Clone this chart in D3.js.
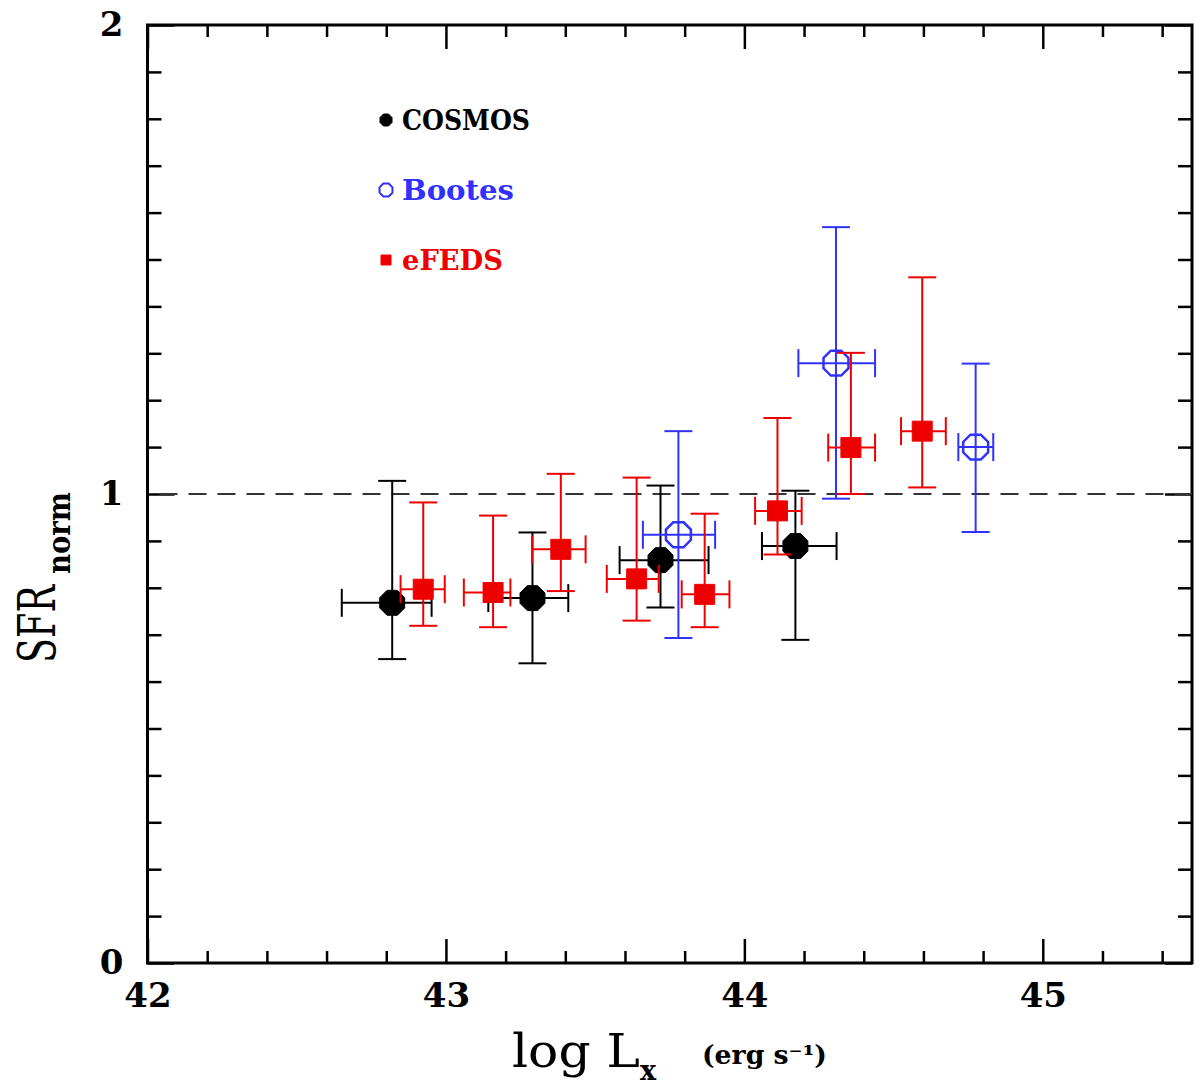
<!DOCTYPE html>
<html>
<head>
<meta charset="utf-8">
<script src="https://cdn.jsdelivr.net/npm/d3@7"></script>
<style>
  html, body { margin: 0; padding: 0; background: #fff; }
  svg { display: block; }
</style>
</head>
<body>
<svg id="chart" width="1200" height="1090"></svg>
<script>
// ---------------- DATA ----------------
const cosmosX   = [42.820, 43.290, 43.719, 44.171];
const cosmosY   = [0.768, 0.778, 0.859, 0.889];
const cosmosXlo = [42.651, 43.142, 43.582, 44.059];
const cosmosXhi = [42.952, 43.410, 43.880, 44.309];
const cosmosYlo = [0.648, 0.639, 0.758, 0.689];
const cosmosYhi = [1.028, 0.918, 1.018, 1.007];

const bootesX   = [43.779, 44.307, 44.775];
const bootesY   = [0.913, 1.279, 1.100];
const bootesXlo = [43.660, 44.181, 44.717];
const bootesXhi = [43.902, 44.438, 44.834];
const bootesYlo = [0.693, 0.990, 0.919];
const bootesYhi = [1.134, 1.569, 1.278];

const efedsX   = [42.924, 43.158, 43.385, 43.639, 43.867, 44.111, 44.357, 44.596];
const efedsY   = [0.797, 0.790, 0.882, 0.819, 0.786, 0.964, 1.099, 1.134];
const efedsXlo = [42.848, 43.060, 43.289, 43.539, 43.790, 44.036, 44.281, 44.525];
const efedsXhi = [42.996, 43.216, 43.468, 43.713, 43.950, 44.192, 44.438, 44.675];
const efedsYlo = [0.719, 0.716, 0.793, 0.730, 0.716, 0.871, 1.000, 1.014];
const efedsYhi = [0.982, 0.954, 1.043, 1.035, 0.958, 1.162, 1.301, 1.462];

const xMajorTicks = [42, 43, 44, 45];
const yMajorTicks = [0, 1, 2];
const xDomain = [42, 45.5];
const yDomain = [0, 2];
const refLineY = 1;

const seriesNames = ["COSMOS", "Bootes", "eFEDS"];

// ---------------- LAYOUT ----------------
const L = 147.5, R = 1192, T = 25, B = 963;
const svg = d3.select("#chart");
const x = d3.scaleLinear().domain(xDomain).range([L, R]);
const y = d3.scaleLinear().domain(yDomain).range([B, T]);

const tickFont = "'DejaVu Serif', serif";

// minor ticks
const xMinor = d3.range(42, 45.5001, 0.2).map(v => +v.toFixed(2)).filter(v => !xMajorTicks.includes(v));
const yMinor = d3.range(0, 2.0001, 0.1).map(v => +v.toFixed(2)).filter(v => !yMajorTicks.includes(v));

function styleAxis(g) {
  g.select(".domain").remove();
  g.selectAll(".tick line").attr("stroke", "#000").attr("stroke-width", 2.5);
  g.selectAll(".tick text").attr("fill", "#000").attr("font-family", tickFont)
    .attr("font-weight", "bold").attr("font-size", 34);
}

// bottom
svg.append("g").attr("transform", `translate(0,${B})`)
  .call(d3.axisBottom(x).tickValues(xMinor).tickSize(-12).tickFormat(""))
  .call(styleAxis);
svg.append("g").attr("transform", `translate(0,${B})`)
  .call(d3.axisBottom(x).tickValues(xMajorTicks).tickSize(-24).tickPadding(20).tickFormat(d3.format("d")))
  .call(styleAxis);
// top
svg.append("g").attr("transform", `translate(0,${T})`)
  .call(d3.axisTop(x).tickValues(xMinor).tickSize(-12).tickFormat(""))
  .call(styleAxis);
svg.append("g").attr("transform", `translate(0,${T})`)
  .call(d3.axisTop(x).tickValues(xMajorTicks).tickSize(-24).tickFormat(""))
  .call(styleAxis);
// left
svg.append("g").attr("transform", `translate(${L},0)`)
  .call(d3.axisLeft(y).tickValues(yMinor).tickSize(-14).tickFormat(""))
  .call(styleAxis);
svg.append("g").attr("transform", `translate(${L},0)`)
  .call(d3.axisLeft(y).tickValues(yMajorTicks).tickSize(-27).tickPadding(24).tickFormat(d3.format("d")))
  .call(styleAxis);
// right
svg.append("g").attr("transform", `translate(${R},0)`)
  .call(d3.axisRight(y).tickValues(yMinor).tickSize(-14).tickFormat(""))
  .call(styleAxis);
svg.append("g").attr("transform", `translate(${R},0)`)
  .call(d3.axisRight(y).tickValues(yMajorTicks).tickSize(-27).tickFormat(""))
  .call(styleAxis);

// frame
svg.append("rect").attr("x", L).attr("y", T).attr("width", R - L).attr("height", B - T)
  .attr("fill", "none").attr("stroke", "#000").attr("stroke-width", 3);

// reference dashed line
svg.append("line")
  .attr("x1", L + 12).attr("x2", R).attr("y1", y(refLineY)).attr("y2", y(refLineY))
  .attr("stroke", "#333").attr("stroke-width", 2.2).attr("stroke-dasharray", "18,11");

// ---------------- SYMBOLS ----------------
const octagon = {
  draw(ctx, size) {
    const r = Math.sqrt(size / (2 * Math.SQRT2));
    for (let i = 0; i < 8; i++) {
      const a = Math.PI / 8 + i * Math.PI / 4;
      const px = r * Math.cos(a), py = r * Math.sin(a);
      if (i === 0) ctx.moveTo(px, py); else ctx.lineTo(px, py);
    }
    ctx.closePath();
  }
};
function octSize(r) { return 2 * Math.SQRT2 * r * r; }

function buildRows(X, Y, Xlo, Xhi, Ylo, Yhi) {
  return X.map((v, i) => ({ x: v, y: Y[i], xlo: Xlo[i], xhi: Xhi[i], ylo: Ylo[i], yhi: Yhi[i] }));
}

const series = [
  { name: seriesNames[0], rows: buildRows(cosmosX, cosmosY, cosmosXlo, cosmosXhi, cosmosYlo, cosmosYhi),
    color: "#000000", type: octagon, size: octSize(13.5), fill: true, sw: 2 },
  { name: seriesNames[1], rows: buildRows(bootesX, bootesY, bootesXlo, bootesXhi, bootesYlo, bootesYhi),
    color: "#3030ff", type: octagon, size: octSize(13.5), fill: false, sw: 2 },
  { name: seriesNames[2], rows: buildRows(efedsX, efedsY, efedsXlo, efedsXhi, efedsYlo, efedsYhi),
    color: "#ee0000", type: d3.symbolSquare, size: 20 * 20, fill: true, sw: 2 }
];

const cap = 14;
series.forEach(s => {
  const g = svg.append("g");
  const eb = g.selectAll("g.eb").data(s.rows).join("g").attr("class", "eb")
    .attr("stroke", s.color).attr("stroke-width", s.sw).attr("fill", "none");
  // vertical
  eb.append("line").attr("x1", d => x(d.x)).attr("x2", d => x(d.x)).attr("y1", d => y(d.ylo)).attr("y2", d => y(d.yhi));
  eb.append("line").attr("x1", d => x(d.x) - cap).attr("x2", d => x(d.x) + cap).attr("y1", d => y(d.ylo)).attr("y2", d => y(d.ylo));
  eb.append("line").attr("x1", d => x(d.x) - cap).attr("x2", d => x(d.x) + cap).attr("y1", d => y(d.yhi)).attr("y2", d => y(d.yhi));
  // horizontal
  eb.append("line").attr("x1", d => x(d.xlo)).attr("x2", d => x(d.xhi)).attr("y1", d => y(d.y)).attr("y2", d => y(d.y));
  eb.append("line").attr("x1", d => x(d.xlo)).attr("x2", d => x(d.xlo)).attr("y1", d => y(d.y) - cap).attr("y2", d => y(d.y) + cap);
  eb.append("line").attr("x1", d => x(d.xhi)).attr("x2", d => x(d.xhi)).attr("y1", d => y(d.y) - cap).attr("y2", d => y(d.y) + cap);
  // markers
  g.selectAll("path.mk").data(s.rows).join("path").attr("class", "mk")
    .attr("d", d3.symbol().type(s.type).size(s.size))
    .attr("transform", d => `translate(${x(d.x)},${y(d.y)})`)
    .attr("fill", s.fill ? s.color : "none")
    .attr("stroke", s.color).attr("stroke-width", s.fill ? 1 : 2.5);
});

// ---------------- LEGEND ----------------
const legend = [
  { label: seriesNames[0], color: "#000000", type: octagon, size: octSize(6.5), fill: true, cy: 120, tl: 128 },
  { label: seriesNames[1], color: "#3030ff", type: octagon, size: octSize(7), fill: false, cy: 190, tl: 112 },
  { label: seriesNames[2], color: "#ee0000", type: d3.symbolSquare, size: 10 * 10, fill: true, cy: 260, tl: 101 }
];
const lg = svg.append("g");
legend.forEach(l => {
  lg.append("path").attr("d", d3.symbol().type(l.type).size(l.size)())
    .attr("transform", `translate(386,${l.cy})`)
    .attr("fill", l.fill ? l.color : "none").attr("stroke", l.color).attr("stroke-width", l.fill ? 1 : 2);
  lg.append("text").attr("x", 402).attr("y", l.cy + 10)
    .attr("font-family", "'DejaVu Serif', serif")
    .attr("font-weight", "bold").attr("font-size", 27)
    .attr("fill", l.color)
    .attr("textLength", l.tl).attr("lengthAdjust", "spacingAndGlyphs")
    .text(l.label);
});

// ---------------- AXIS LABELS ----------------
const xl = svg.append("text").attr("y", 1067).attr("fill", "#000").attr("font-family", tickFont);
xl.append("tspan").attr("x", 512).attr("font-size", 46).attr("textLength", 128).attr("lengthAdjust", "spacingAndGlyphs").text("log L");
xl.append("tspan").attr("x", 640).attr("dy", 13).attr("font-size", 27).attr("font-weight", "bold").text("x");
svg.append("text").attr("x", 702).attr("y", 1064).attr("fill", "#000").attr("font-family", tickFont)
  .attr("font-size", 26).attr("font-weight", "bold")
  .attr("textLength", 125).attr("lengthAdjust", "spacingAndGlyphs")
  .text("(erg s\u207B\u00B9)");

const yl = svg.append("g").attr("transform", "translate(55,663) rotate(-90)");
const ylt = yl.append("text").attr("x", 0).attr("y", 0).attr("fill", "#000").attr("font-family", tickFont);
ylt.append("tspan").attr("font-size", 52).attr("textLength", 78).attr("lengthAdjust", "spacingAndGlyphs").text("SFR");
svg.append("g").attr("transform", "translate(70,574) rotate(-90)")
  .append("text").attr("x", 0).attr("y", 0).attr("fill", "#000").attr("font-family", tickFont)
  .attr("font-size", 32).attr("font-weight", "bold")
  .attr("textLength", 82).attr("lengthAdjust", "spacingAndGlyphs").text("norm");
</script>
</body>
</html>
